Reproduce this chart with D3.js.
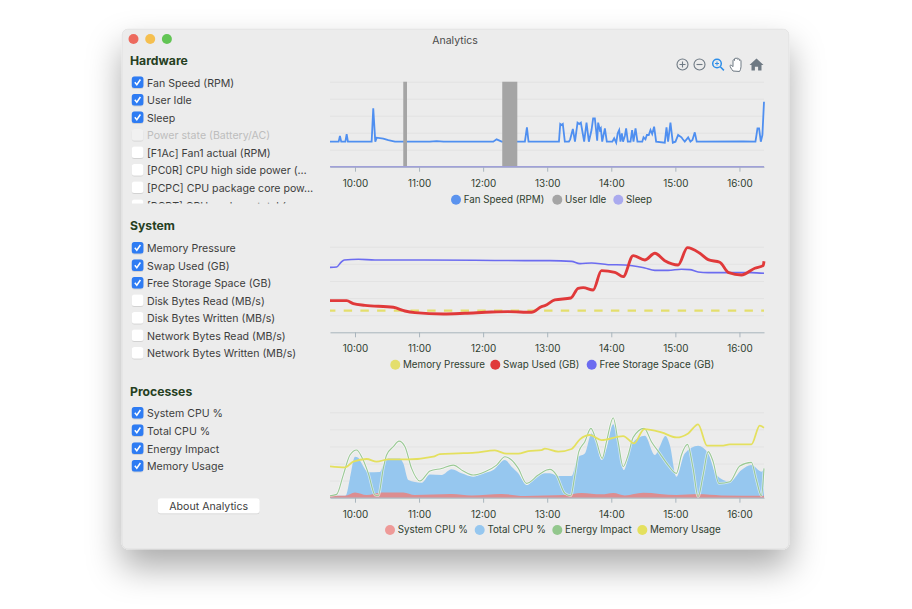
<!DOCTYPE html>
<html><head><meta charset="utf-8">
<script src="https://d3js.org/d3.v7.min.js"></script>
<style>
html,body{margin:0;padding:0;background:#fff}
svg{display:block}
text{font-family:Inter,"Noto Sans",sans-serif}
</style></head><body>
<svg id="c" width="912" height="609"></svg>
<script>
// ---- data ---- times are minutes since midnight
const tickMinutes=[600,660,720,780,840,900,960];
const tickLabels=["10:00","11:00","12:00","13:00","14:00","15:00","16:00"];
const hardwareItems=["Fan Speed (RPM)","User Idle","Sleep","Power state (Battery/AC)","[F1Ac] Fan1 actual (RPM)","[PC0R] CPU high side power (…","[PCPC] CPU package core pow…","[PCPT] CPU package total (…"];
const systemItems=["Memory Pressure","Swap Used (GB)","Free Storage Space (GB)","Disk Bytes Read (MB/s)","Disk Bytes Written (MB/s)","Network Bytes Read (MB/s)","Network Bytes Written (MB/s)"];
const processItems=["System CPU %","Total CPU %","Energy Impact","Memory Usage"];

const fanTime=[576.6,584.7,585.9,587.1,591,592.2,593.4,615.6,617.1,619,620.3,626.5,631.2,637.4,670,676.4,683,729.5,732.6,734.8,737.3,759.1,761,762.5,778,791,792.2,793.4,794.6,796.5,800.3,801.5,804,806,808.4,810,811.5,812.7,814.6,816.8,819,821.5,823,824.6,826.8,827.7,829.3,830.2,831.5,834,835.8,841,842.7,844.6,846,847.4,848.6,849.9,851,852.7,853.9,855.5,858,859.5,860.8,862.7,864.5,869,870.2,872,873.3,875.1,876.7,878.3,880.1,882,890.1,891.7,893.2,895.4,897.6,900.1,902.6,905.7,907,908.8,912,914.1,916,918.2,920,963.4,975,976.9,978.4,980,981.5,983];
const fanValues=[1472,1472,1805,1472,1472,1920,1472,1472,3430,1472,1705,1650,1560,1472,1472,1510,1472,1472,1610,1550,1472,1472,2315,1472,1472,1472,2511,2452,2511,1472,1472,1610,2217,1472,2590,2511,2590,2158,1472,2590,1472,2158,2844,2844,1530,2590,2158,2256,1472,2256,1472,1472,1668,1413,1962,2158,1472,1962,1472,1805,2256,1472,1472,2158,1472,2256,1472,1472,1727,1610,1864,1864,2158,1923,2354,1472,1413,2315,1472,2590,1413,1472,1864,1727,1610,1472,1727,1472,1570,2021,1472,1492,1472,2256,2256,1472,1864,3824];
const idleTime=[576.6,645.2,648.7,737.9,752,983];
const idleValues=[0,100,0,100,0,0];
const sleepTime=[576.6,983];
const sleepValues=[0,0];

const pressureTime=[576.6,983];
const pressureValues=[25.3,25.3];
const swapTime=[576.6,592.2,598.4,609.3,635.9,646.8,656.1,682.7,703,727.9,743.5,765.3,774.7,777.8,787.2,802.1,809,813.7,823,830.8,843.3,851.1,860.5,871.4,880.8,890.1,902.6,911.3,922.9,930.7,941.6,950,961.9,974.4,982.2,983];
const swapValues=[37,37,33.5,31.5,29.2,24.9,23,21.4,22.2,23.7,24.1,23.4,30,31.1,37.8,40.1,51.4,52.2,49.5,72,70.1,65,89.6,84.5,92.3,83.7,78.7,98.9,92.3,84.9,81.8,69.7,67,74.8,77.9,83];
const freeTime=[576.6,582.8,586.9,590,603.1,618.7,665.5,712.3,759.1,782.5,802.8,810.6,821.5,837.1,852.7,871.4,880.8,893.2,905.7,913.5,921.3,930.7,958.8,971.2,983];
const freeValues=[75.9,76.3,81.8,84.5,85.3,84.5,84.5,84.1,83.7,83.7,82.9,80.2,81,79,78.7,75.1,72.4,72.4,73.6,73.2,70.5,69.7,69.7,69.7,68.9];

const systemCpuTime=[576.6,590.6,600,610.9,624.9,645.2,656.1,690.5,709.2,737.3,759.1,777.8,796.5,812.1,830.8,841.8,852.7,869.8,901,921.3,943.2,983];
const systemCpuValues=[2.3,2.3,6.2,3.1,6.2,6.2,3.1,4.3,2.7,4.3,2,2.7,3.1,5.5,3.9,5.5,2.7,5.8,3.1,4.3,2.7,2.3];
const totalCpuTime=[576.6,591.2,595.3,600,603.1,606.2,612.5,623.4,626.5,631.2,642.1,645.2,649.9,662.4,670.2,681.1,690.5,699.8,710.7,720.1,729.5,740.4,746.6,752.9,760.7,768.5,777.8,782.5,790.3,802.8,809,815.2,821.5,826.2,830.8,835.5,841.8,846.4,851.7,859.5,871.4,880.8,885.4,890.7,894.8,901,908.8,921.3,930.7,938.5,951,961.9,971.2,980.6,983];
const totalCpuValues=[2.3,2.3,22.6,48,46.8,40.2,29.7,30.1,38.2,46,46,40.2,20.7,17.6,27.3,26.5,33.2,28.5,24.6,28.5,32.4,44.1,36.3,28.5,14.8,22.6,28.5,28.5,25.4,25.4,48,51.9,75.3,63.6,44.1,57.8,85.9,65.6,32.4,63.6,72.6,50,59.7,72.2,61.7,24.6,51.9,60.9,51.9,26.5,18.7,32.4,38.2,30.4,34.3];
const energyTime=[576.6,582.8,589,595.3,601.5,606.2,612.5,618.7,621.8,626.5,629.6,635.9,641.2,646.8,653,660.8,670.2,681.1,692,701.4,710.7,721.7,732.6,740.4,746.6,752.9,760.7,771.6,779.4,782.5,788.7,796.5,802.1,805.9,809.6,815.2,820.9,826.2,831.5,835.5,841.8,846.4,851.1,855.8,860.5,870.8,877.6,885.4,893.2,901,905.7,911.3,916.6,921.3,926,930.7,935.4,940.7,951,960.3,971.2,975.9,980.6,983];
const energyValues=[2.3,3.9,26.5,50,55.8,48,28.5,3.1,2.3,34.3,50,59.7,66.3,59.7,34.3,19.5,31.2,34.3,38.2,31.2,26.5,30.4,38.2,48,44.1,34.3,16.8,26.5,32.4,33.2,26.5,5.1,2.3,26.5,53.9,65.6,81.2,65.6,46,65.6,93.7,65.6,36.3,50,70.6,81.2,65.6,51.9,38.2,28.5,50,62.4,34.3,1.2,26.5,53.9,42.2,16.8,18.7,37.1,41.4,20.7,2.3,34.3];
const memoryTime=[576.6,590.6,598.4,610.9,620.3,631.2,649.9,673.3,679.5,696.7,712.3,731,741.9,752.9,762.2,774.7,777.8,790.3,802.8,810.6,819.9,830.8,851.1,861.4,870.8,887,901,912,921.3,929.7,943.2,951,971.2,979,983];
const memoryValues=[36.7,35.5,42.2,45.3,42.2,44.9,44.9,48,51.1,51.9,52.7,55.4,51.5,51.5,54.6,55.8,57.4,53.9,57,68.3,73.4,67.5,72.2,63.6,80.4,76.5,70.6,75.3,85.9,60.9,60.9,62.4,62.4,84.3,82];

// ---- layout ----
const svg=d3.select("#c");
const defs=svg.append("defs");
defs.append("filter").attr("id","sh").attr("x","-20%").attr("y","-20%").attr("width","140%").attr("height","150%")
  .html('<feDropShadow dx="0" dy="18" stdDeviation="17" flood-color="#000" flood-opacity="0.33"/>');
defs.append("filter").attr("id","bx").attr("x","-30%").attr("y","-30%").attr("width","160%").attr("height","170%")
  .html('<feDropShadow dx="0" dy="0.5" stdDeviation="0.5" flood-color="#000" flood-opacity="0.22"/>');
defs.append("clipPath").attr("id","hwclip").append("rect").attr("x",125).attr("y",70).attr("width",195).attr("height",133.5);

svg.append("rect").attr("x",122).attr("y",29).attr("width",667).attr("height",520).attr("rx",6)
  .attr("fill","#ececec").attr("stroke","#d6d6d6").attr("stroke-width",.5).attr("filter","url(#sh)");
svg.append("text").attr("x",455).attr("y",43.6).attr("text-anchor","middle").attr("font-size",10.5).attr("fill","#4a4a4a").text("Analytics");
svg.selectAll(".tl").data(["#ed6a5e","#f5bf4f","#62c554"]).enter().append("circle")
  .attr("cx",(d,i)=>133.5+i*16.7).attr("cy",39).attr("r",5).attr("fill",d=>d);

const green="#26401f", txt="#3d3d3d", tickTxt="#2f402f";
function header(t,y){svg.append("text").attr("x",130).attr("y",y).attr("font-size",12.2).attr("font-weight",700).attr("fill",green).text(t);}
function list(items,ys,checkedN,disabled,clip){
  const g=svg.append("g"); if(clip) g.attr("clip-path","url(#hwclip)");
  items.forEach((t,i)=>{
    const y=ys[i], on=i<checkedN, dis=disabled===i;
    g.append("rect").attr("x",131.8).attr("y",y-6).attr("width",11.6).attr("height",11.6).attr("rx",2.5)
      .attr("fill",on?"#2f7bf3":dis?"#f1f1f1":"#fff").attr("filter","url(#bx)");
    if(on) g.append("path").attr("d",`M${134.8},${y-.2}l2,2.4l3.6,-5.2`).attr("fill","none").attr("stroke","#fff").attr("stroke-width",1.5);
    g.append("text").attr("x",147).attr("y",y+4).attr("font-size",10.6).attr("fill",dis?"#bdbdbd":txt).text(t);
  });
}
header("Hardware",65); header("System",230); header("Processes",395.5);
list(hardwareItems,[82.5,100,117.5,135,152.5,170,187.5,205.5],3,3,true);
list(systemItems,[248,265.5,283,300.5,318,335.5,353],3,-1,false);
list(processItems,[413,430.5,448.5,466],4,-1,false);
svg.append("rect").attr("x",157.7).attr("y",498.3).attr("width",102).attr("height",15).attr("rx",3).attr("fill","#fff").attr("filter","url(#bx)");
svg.append("text").attr("x",208.7).attr("y",510).attr("text-anchor","middle").attr("font-size",10.6).attr("fill",txt).text("About Analytics");

// toolbar
const tb=svg.append("g").attr("fill","none").attr("stroke","#6f7a84").attr("stroke-width",1.1);
tb.append("circle").attr("cx",682.5).attr("cy",64.5).attr("r",5.5);
tb.append("path").attr("d","M679.5,64.5h6M682.5,61.5v6");
tb.append("circle").attr("cx",699.5).attr("cy",64.5).attr("r",5.5);
tb.append("path").attr("d","M696.5,64.5h6");
const mg=svg.append("g").attr("fill","none").attr("stroke","#2f8fe8").attr("stroke-width",1.5);
mg.append("circle").attr("cx",717).attr("cy",63.5).attr("r",4.3);
mg.append("path").attr("d","M720.3,66.8l3.6,3.6");
mg.append("path").attr("d","M715,63.5h4M717,61.5v4").attr("stroke-width",1);
svg.append("path").attr("d","M733,71c-1.5,-2 -3,-4 -3,-5.5c0.8,-0.8 1.8,0 3,1.2v-6.2c0,-1 1.3,-1 1.5,0v-1.5c0,-1 1.6,-1 1.7,0v-0.3c0,-1 1.6,-1 1.7,0v0.8c0.2,-1 1.6,-1 1.6,0v1c0.3,-0.8 1.5,-0.6 1.5,0.3v6c0,2 -0.8,3.5 -1.5,4.7z")
  .attr("fill","#fff").attr("stroke","#6f7a84").attr("stroke-width",1);
svg.append("path").attr("d","M756.5,58.5l7,6.4h-2v5.6h-3.4v-3.8h-3.2v3.8h-3.4v-5.6h-2z").attr("fill","#6f7a84");

const x=d3.scaleLinear().domain([576.6,983]).range([330,764]);
const gridColor="#e3e3e3", axisColor="#a9b5bd";
function frame(top,bottom,labelGap){
  const y=d3.scaleLinear().domain([0,100]).range([bottom,top]);
  const g=svg.append("g");
  const gy=g.append("g").attr("transform","translate(330,0)").call(d3.axisLeft(y).tickValues([20,40,60,80,100]).tickSize(-434).tickFormat(""));
  gy.select(".domain").remove();
  gy.selectAll("line").attr("stroke",gridColor);
  return {y,after(){
    const a=svg.append("g").attr("transform",`translate(0,${bottom})`)
      .call(d3.axisBottom(x).tickValues(tickMinutes).tickFormat((d,i)=>tickLabels[i]).tickSize(5).tickPadding(labelGap).tickSizeOuter(0));
    a.select(".domain").attr("stroke",axisColor);
    a.selectAll("line").attr("stroke",axisColor);
    a.selectAll("text").attr("font-size",9.9).attr("fill",tickTxt).attr("font-family","Inter,'Noto Sans',sans-serif");
  }};
}
function zip(t,v){return t.map((d,i)=>[d,v[i]]);}
function lineOf(y,curve){return d3.line().x(d=>x(d[0])).y(d=>y(d[1])).curve(curve||d3.curveMonotoneX);}
function areaOf(y,curve){return d3.area().x(d=>x(d[0])).y0(y(0)).y1(d=>y(d[1])).curve(curve||d3.curveMonotoneX);}
function legend(cy,items){
  items.forEach(([cx,col,t])=>{
    svg.append("circle").attr("cx",cx).attr("cy",cy).attr("r",5).attr("fill",col);
    svg.append("text").attr("x",cx+7.7).attr("y",cy+3.2).attr("font-size",9.8).attr("fill",tickTxt).text(t);
  });
}

// Hardware chart
{
  const f=frame(81.7,166.7,8);
  const fanY=d3.scaleLinear().domain([0,5000]).range([166.7,81.7]);
  svg.append("path").datum(zip(fanTime,fanValues)).attr("d",lineOf(fanY,d3.curveLinear)).attr("fill","none").attr("stroke","#4f8ff0").attr("stroke-width",1.8);
  svg.append("path").datum(zip(idleTime,idleValues)).attr("d",areaOf(f.y,d3.curveStepAfter)).attr("fill","#a5a5a5");
  f.after();
  svg.append("path").datum(zip(sleepTime,sleepValues)).attr("d",lineOf(f.y,d3.curveLinear)).attr("fill","none").attr("stroke","#a0a0d8").attr("stroke-width",1.4);
  legend(199.7,[[456,"#5b93ee","Fan Speed (RPM)"],[557.3,"#a5a5a5","User Idle"],[618.3,"#aaaaee","Sleep"]]);
}
// System chart
{
  const f=frame(246.7,332.3,8);
  svg.append("path").datum(zip(pressureTime,pressureValues)).attr("d",lineOf(f.y,d3.curveLinear)).attr("fill","none").attr("stroke","#e4de6c").attr("stroke-width",2.4).attr("stroke-dasharray","8.4,8.3").attr("stroke-dashoffset",3);
  svg.append("path").datum(zip(freeTime,freeValues)).attr("d",lineOf(f.y)).attr("fill","none").attr("stroke","#6c6cf0").attr("stroke-width",1.6);
  svg.append("path").datum(zip(swapTime,swapValues)).attr("d",lineOf(f.y)).attr("fill","none").attr("stroke","#e0393a").attr("stroke-width",2.9);
  f.after();
  legend(364.7,[[395.3,"#e4de6c","Memory Pressure"],[495.3,"#e0393a","Swap Used (GB)"],[591.7,"#6c6cf0","Free Storage Space (GB)"]]);
}
// Processes chart
{
  const f=frame(412.3,497.7,8);
  svg.append("path").datum(zip(totalCpuTime,totalCpuValues)).attr("d",areaOf(f.y)).attr("fill","#96c7ef");
  svg.append("path").datum(zip(systemCpuTime,systemCpuValues)).attr("d",areaOf(f.y)).attr("fill","#dc8d90");
  svg.append("path").datum(zip(energyTime,energyValues)).attr("d",lineOf(f.y)).attr("fill","none").attr("stroke","#fff").attr("stroke-opacity",.55).attr("stroke-width",2.6);
  svg.append("path").datum(zip(energyTime,energyValues)).attr("d",lineOf(f.y)).attr("fill","none").attr("stroke","#9ac995").attr("stroke-width",1.1);
  svg.append("path").datum(zip(memoryTime,memoryValues)).attr("d",lineOf(f.y)).attr("fill","none").attr("stroke","#e4e05e").attr("stroke-width",1.8);
  f.after();
  legend(530,[[390,"#ee9a98","System CPU %"],[479.7,"#96c7ef","Total CPU %"],[557.3,"#93c78d","Energy Impact"],[642.3,"#e4e05e","Memory Usage"]]);
}
</script></body></html>
